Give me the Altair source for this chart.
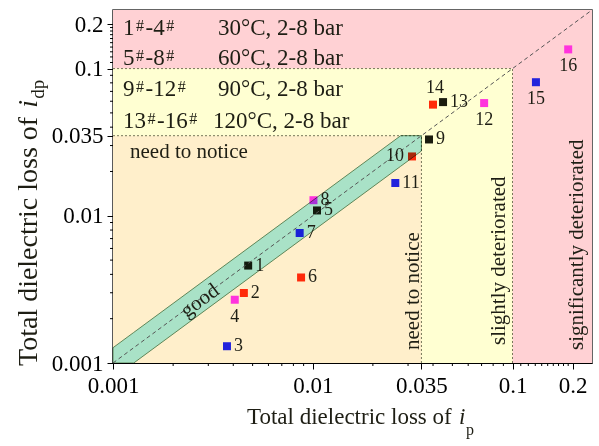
import altair as alt
import pandas as pd

# ---------------- data ----------------
sample_ids = [str(i) for i in range(1, 17)]
ip_loss = [0.00475, 0.00452, 0.00372, 0.00407, 0.0105, 0.00874, 0.0086, 0.01008,
           0.0382, 0.0314, 0.0259, 0.0721, 0.0449, 0.0400, 0.131, 0.190]
idp_loss = [0.00459, 0.00299, 0.00130, 0.00269, 0.01087, 0.00381, 0.00764, 0.01276,
            0.0330, 0.0253, 0.0167, 0.0583, 0.0592, 0.0569, 0.0808, 0.135]
pressure = ["2 bar", "4 bar", "6 bar", "8 bar"] * 4

major_ticks = [0.001, 0.01, 0.035, 0.1, 0.2]
minor_ticks = [m * d for d in (0.001, 0.01) for m in range(2, 10)] + \
              [0.11, 0.12, 0.13, 0.14, 0.15, 0.16, 0.17, 0.18, 0.19]

region_names = ["significantly deteriorated", "slightly deteriorated", "need to notice"]
region_limits = [0.25, 0.1, 0.035]
thresholds = [0.035, 0.1]
band_ratio = 1.27  # width of the "good" band around y = x

legend_ranges = ["1#-4#", "5#-8#", "9#-12#", "13#-16#"]
legend_conditions = ["30°C, 2-8 bar", "60°C, 2-8 bar", "90°C, 2-8 bar", "120°C, 2-8 bar"]

# ---------------- styling ----------------
FONT = "Liberation Serif"
TXT = "#1e1e14"
W, H = 479, 353
LO, HI = 0.001, 0.25
region_colors = ["#FFD1D4", "#FFFFD2", "#FFEFCB"]
press_colors = ["#1a1c0e", "#FF2A0A", "#2323DC", "#FF33DD"]

xs = alt.Scale(type="log", domain=[LO, HI], nice=False)
ys = alt.Scale(type="log", domain=[LO, HI], nice=False)

common_axis = dict(values=major_ticks, title=None, grid=False,
                   labelExpr="'' + datum.value", labelFont=FONT, labelFontSize=23,
                   labelColor="black", tickColor="black", tickSize=6, tickWidth=1,
                   domainColor="black", domainWidth=1.2, labelFlush=False,
                   labelOverlap=False)
xaxis = alt.Axis(labelPadding=5, **common_axis)
yaxis = alt.Axis(labelPadding=4, **common_axis)

# ---------------- tables ----------------
points = pd.DataFrame({"id": sample_ids, "ip": ip_loss, "idp": idp_loss, "p": pressure})
regions = pd.DataFrame({"name": region_names, "lo": [LO] * 3, "hi": region_limits})
bounds = pd.DataFrame({"lo": [LO] * len(thresholds), "t": thresholds})
k = band_ratio
top = thresholds[0]
band = pd.DataFrame({
    "x": [LO, LO * k, top / k, top],
    "lo": [LO, LO, top / k / k, top / k],
    "hi": [LO * k, LO * k * k, top, top],
})
diag = pd.DataFrame({"a": [LO], "b": [HI]})

# ---------------- layers ----------------
bg = alt.Chart(regions).mark_rect().encode(
    x=alt.X("lo:Q", scale=xs, axis=xaxis), x2="hi:Q",
    y=alt.Y("lo:Q", scale=ys, axis=yaxis), y2="hi:Q",
    color=alt.Color("name:N", scale=alt.Scale(domain=region_names, range=region_colors), legend=None),
)

dash_style = dict(color="#77775a", strokeWidth=1, strokeDash=[2, 2])
hrules = alt.Chart(bounds).mark_rule(**dash_style).encode(
    x=alt.X("lo:Q", scale=xs, axis=xaxis), x2="t:Q", y=alt.Y("t:Q", scale=ys, axis=yaxis))
vrules = alt.Chart(bounds).mark_rule(**dash_style).encode(
    x=alt.X("t:Q", scale=xs, axis=xaxis), y=alt.Y("lo:Q", scale=ys, axis=yaxis), y2="t:Q")

xminor = alt.Chart(pd.DataFrame({"v": minor_ticks})).mark_rule(color="black", strokeWidth=1).encode(
    x=alt.X("v:Q", scale=xs, axis=xaxis), y=alt.value(H), y2=alt.value(H + 3))
yminor = alt.Chart(pd.DataFrame({"v": minor_ticks})).mark_rule(color="black", strokeWidth=1).encode(
    y=alt.Y("v:Q", scale=ys, axis=yaxis), x=alt.value(0), x2=alt.value(-3))

pts = alt.Chart(points).mark_square(size=64, opacity=1).encode(
    x=alt.X("ip:Q", scale=xs, axis=xaxis),
    y=alt.Y("idp:Q", scale=ys, axis=yaxis),
    color=alt.Color("p:N", scale=alt.Scale(domain=["2 bar", "4 bar", "6 bar", "8 bar"], range=press_colors), legend=None),
)

band_layer = alt.Chart(band).mark_area(
    fill="#A9F2FA", stroke="#5f8f6f", strokeWidth=1, blend="multiply", opacity=1
).encode(
    x=alt.X("x:Q", scale=xs, axis=xaxis),
    y=alt.Y("lo:Q", scale=ys, axis=yaxis), y2="hi:Q",
)

diag_layer = alt.Chart(diag).mark_rule(color="#555555", strokeWidth=1, strokeDash=[4, 3]).encode(
    x=alt.X("a:Q", scale=xs, axis=xaxis), x2="b:Q",
    y=alt.Y("a:Q", scale=ys, axis=yaxis), y2="b:Q",
)

right_ids = ["1", "2", "3", "5", "6", "7", "8", "9", "11", "13"]
below_ids = ["4", "12", "15", "16"]
above_ids = ["14"]
left_ids = ["10"]


def label_layer(ids, **kw):
    return alt.Chart(points).transform_filter(
        alt.FieldOneOfPredicate(field="id", oneOf=ids)
    ).mark_text(font=FONT, fontSize=18, color=TXT, baseline="middle", **kw).encode(
        x=alt.X("ip:Q", scale=xs, axis=xaxis),
        y=alt.Y("idp:Q", scale=ys, axis=yaxis),
        text="id:N",
    )


labels = [
    label_layer(right_ids, align="left", dx=7),
    label_layer(below_ids, align="center", dy=17),
    label_layer(above_ids, align="center", dy=-17, dx=2),
    label_layer(left_ids, align="right", dx=-8),
]


def note(text, x, y, size=21, angle=0, align="left", baseline="alphabetic", style="normal"):
    return alt.Chart(pd.DataFrame({"t": [text]})).mark_text(
        align=align, baseline=baseline, angle=angle, font=FONT, fontSize=size,
        fontStyle=style, color=TXT,
    ).encode(x=alt.value(x), y=alt.value(y), text="t:N")


# approximate Times advance widths (em)
CW = {"0": .5, "1": .5, "2": .5, "3": .5, "4": .5, "5": .5, "6": .5, "7": .5, "8": .5, "9": .5,
      "-": .333, "#": .5, " ": .25}


def width(s, size):
    return sum(CW.get(c, .5) for c in s) * size


notes = []
row_base = [25, 55, 86, 118]
cond_x = [105, 105, 105, 100]
for i, (rng, cond) in enumerate(zip(legend_ranges, legend_conditions)):
    x = 10
    parts = rng.split("#")
    for j, part in enumerate(parts):
        if part:
            notes.append(note(part, x, row_base[i], size=23))
            x += width(part, 23)
        if j < len(parts) - 1:
            x += 1.5
            notes.append(note("#", x, row_base[i] - 4, size=16))
            x += width("#", 16) + 1.5
    notes.append(note(cond, cond_x[i], row_base[i], size=23))

notes += [
    note("need to notice", 17, 148),
    note("need to notice", 306, 340, angle=270),
    note("slightly deteriorated", 392, 335, angle=270),
    note("significantly deteriorated", 470, 340, angle=270),
    note("good", 87, 291, angle=323.6, align="center", baseline="middle"),
]

# axis titles built from pieces (italic i, subscript)
main_t = "Total dielectric loss of "
EM = 9.221
xs_size = 23
x0 = 134
notes += [
    note(main_t, x0, 414, size=xs_size),
    note("i", x0 + EM * xs_size, 414, size=xs_size, style="italic"),
    note("p", x0 + EM * xs_size + 7, 425, size=16),
]
ys_size = 28
y0 = 356
notes += [
    note(main_t, -76, y0, size=ys_size, angle=270),
    note("i", -76, y0 - EM * ys_size, size=ys_size, angle=270, style="italic"),
    note("dp", -69, y0 - EM * ys_size - 9, size=19, angle=270),
]

chart = alt.layer(
    bg, hrules, vrules, pts, band_layer, diag_layer, xminor, yminor, *labels, *notes
).resolve_scale(color="independent").properties(
    width=W, height=H,
    autosize=alt.AutoSizeParams(type="none"),
    padding={"left": 113, "top": 10, "right": 7, "bottom": 83},
).configure_view(stroke="#333333", strokeWidth=1.5)

chart.save("out.html", embed_options={"renderer": "svg", "actions": False})
